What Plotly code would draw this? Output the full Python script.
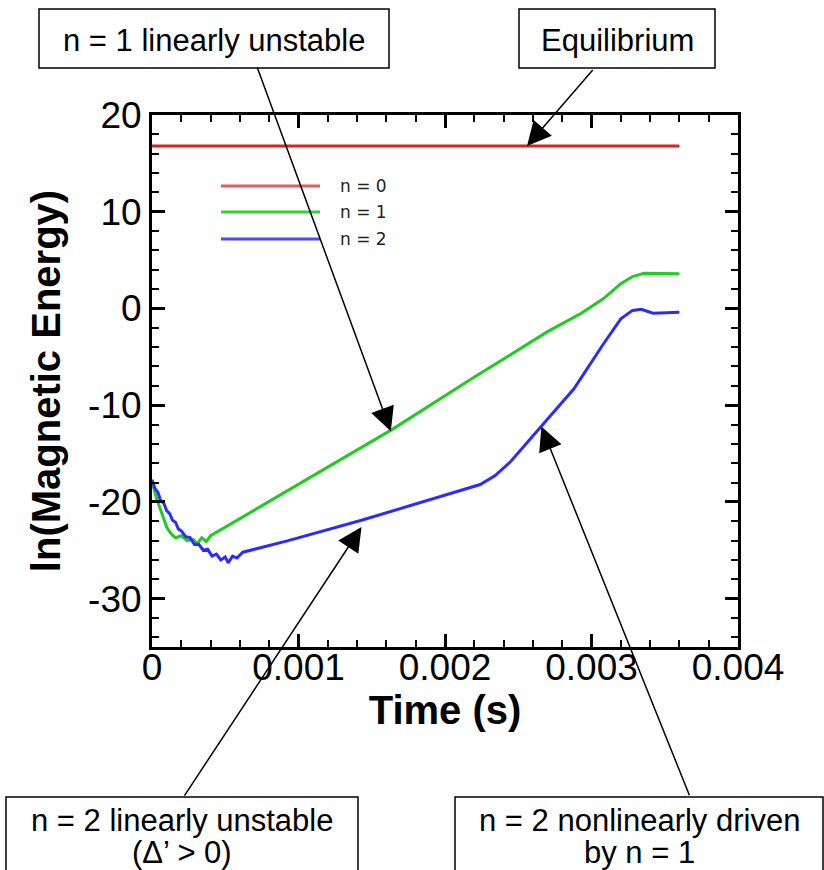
import plotly.graph_objects as go

# ---------------- data ----------------
t_n0 = [0.0, 0.0036]
e_n0 = [16.8, 16.8]

t_n1 = [0.0, 0.00003, 0.00007, 0.0001, 0.00013, 0.00016, 0.0002, 0.00024, 0.00028,
        0.00031, 0.00034, 0.00037, 0.0004, 0.00118, 0.00164, 0.00219, 0.0027,
        0.00293, 0.00308, 0.0032, 0.00328, 0.00336, 0.0036]
e_n1 = [-17.9, -19.6, -21.3, -22.6, -23.3, -23.7, -23.5, -24.0, -23.9,
        -24.3, -23.7, -24.1, -23.5, -16.6, -12.5, -7.2, -2.4,
        -0.5, 1.0, 2.56, 3.3, 3.63, 3.6]

t_n2 = [0.0, 0.00002, 0.00004, 0.00006, 0.00008, 0.0001, 0.00012, 0.00014, 0.00016,
        0.00018, 0.0002, 0.00023, 0.00026, 0.00029, 0.00032, 0.00035, 0.00038,
        0.00041, 0.00044, 0.00047, 0.0005, 0.00052, 0.00055, 0.00058, 0.00062,
        0.00093, 0.00143, 0.00207, 0.00224, 0.00234, 0.00245, 0.00265, 0.00288,
        0.00308, 0.0032, 0.00328, 0.00334, 0.00342, 0.0036]
e_n2 = [-17.7, -18.6, -19.0, -19.9, -20.1, -20.9, -21.2, -21.9, -22.1,
        -22.8, -23.0, -23.6, -23.7, -24.4, -24.4, -25.0, -24.9,
        -25.6, -25.4, -26.0, -25.7, -26.3, -25.6, -25.8, -25.2,
        -24.0, -21.9, -19.0, -18.2, -17.3, -15.8, -12.3, -8.3,
        -3.7, -1.07, -0.2, -0.08, -0.5, -0.38]

series_names = ["n = 0", "n = 1", "n = 2"]
series_colors = ["#e41f1f", "#1fcc1f", "#2b2bff"]
legend_colors = ["#ec5a5a", "#2ed62e", "#4a4aff"]

x_tickvals = [0, 0.001, 0.002, 0.003, 0.004]
x_ticktext = ["0", "0.001", "0.002", "0.003", "0.004"]
y_tickvals = [-30, -20, -10, 0, 10, 20]
y_ticktext = ["-30", "-20", "-10", "0", "10", "20"]

# callout texts and the data points their arrows point at
callouts = [
    dict(text="n = 1 linearly unstable", tip=(0.00163, -12.7)),
    dict(text="Equilibrium", tip=(0.00256, 16.8)),
    dict(text="n = 2 linearly unstable", sub="(\u0394\u2019 > 0)", tip=(0.00143, -22.6)),
    dict(text="n = 2 nonlinearly driven", sub="by n = 1", tip=(0.002658, -12.2)),
]

# ---------------- layout geometry (pixels) ----------------
W, H = 824, 870
L, R, T, B = 152, 738, 115, 647


def px(X):
    return (X - L) / (R - L)


def py(Y):
    return (B - Y) / (B - T)


FONT = "Liberation Sans, Arial, Helvetica, sans-serif"

fig = go.Figure()
for tx, ey, nm, col in zip([t_n0, t_n1, t_n2], [e_n0, e_n1, e_n2], series_names, series_colors):
    fig.add_trace(go.Scatter(x=tx, y=ey, mode="lines", name=nm,
                             line=dict(color=col, width=3), showlegend=False))

shapes = []
annotations = []

# hand-drawn style legend (lines + labels) inside the plot
leg_y = [186, 212, 239]
for yy, nm, col in zip(leg_y, series_names, legend_colors):
    shapes.append(dict(type="line", xref="paper", yref="paper",
                       x0=px(221), x1=px(320), y0=py(yy), y1=py(yy),
                       line=dict(color=col, width=3)))
    annotations.append(dict(xref="paper", yref="paper", x=px(338), y=py(yy),
                            xanchor="left", yanchor="middle", showarrow=False,
                            text=nm, font=dict(family="DejaVu Sans, sans-serif", size=17, color="#222")))

# callout boxes
boxes = [(39, 9, 389, 68), (519, 9, 715, 68), (6, 797, 358, 880), (455, 797, 823, 880)]
for (x0, y0, x1, y1) in boxes:
    shapes.append(dict(type="rect", xref="paper", yref="paper",
                       x0=px(x0), x1=px(x1), y0=py(y1), y1=py(y0),
                       line=dict(color="black", width=1.5), fillcolor="white", layer="above"))

text_pos = [((214, 40), None), ((617, 40), None), ((182, 820), (182, 852)), ((639, 820), (639, 852))]
tails = [(257, 68), (594, 68), (184, 797), (690, 797)]
tips_px = [(391, 433), (527, 145.5), (362, 527), (541.4, 426.7)]

for c, (p1, p2), tail, tp in zip(callouts, text_pos, tails, tips_px):
    annotations.append(dict(xref="paper", yref="paper", x=px(p1[0]), y=py(p1[1]),
                            xanchor="center", yanchor="middle", showarrow=False,
                            text=c["text"], font=dict(family=FONT, size=31, color="black")))
    if p2 is not None:
        annotations.append(dict(xref="paper", yref="paper", x=px(p2[0]), y=py(p2[1]),
                                xanchor="center", yanchor="middle", showarrow=False,
                                text=c["sub"], font=dict(family=FONT, size=31, color="black")))
    annotations.append(dict(xref="x", yref="y", x=c["tip"][0], y=c["tip"][1],
                            text="", showarrow=True, arrowhead=2, arrowsize=3.2,
                            arrowwidth=1.5, arrowcolor="black",
                            axref="pixel", ayref="pixel",
                            ax=tail[0] - tp[0], ay=tail[1] - tp[1], standoff=0))

axis_common = dict(showgrid=False, zeroline=False, showline=True, linewidth=3,
                   linecolor="black", mirror="allticks", ticks="inside", ticklen=13,
                   tickwidth=2.5, tickcolor="black",
                   tickfont=dict(family=FONT, size=37, color="black"))

fig.update_layout(
    width=W, height=H,
    margin=dict(l=L, r=W - R, t=T, b=H - B, autoexpand=False),
    paper_bgcolor="white", plot_bgcolor="white",
    xaxis=dict(range=[0, 0.004], tickmode="array", tickvals=x_tickvals, ticktext=x_ticktext,
               ticklabelstandoff=-14,
               minor=dict(ticks="inside", ticklen=7, tickwidth=1.5, tickcolor="black",
                          tickmode="linear", tick0=0, dtick=0.0002, showgrid=False),
               title=dict(text="<b>Time (s)</b>", standoff=0,
                          font=dict(family=FONT, size=40, color="black")),
               **axis_common),
    yaxis=dict(range=[-35, 20], tickmode="array", tickvals=y_tickvals, ticktext=y_ticktext,
               minor=dict(ticks="inside", ticklen=7, tickwidth=1.5, tickcolor="black",
                          tickmode="linear", tick0=0, dtick=2, showgrid=False),
               title=dict(text="<b>ln(Magnetic Energy)</b>", standoff=16,
                          font=dict(family=FONT, size=40, color="black")),
               **axis_common),
    shapes=shapes,
    annotations=annotations,
    showlegend=False,
)

fig.write_html("out.html")
